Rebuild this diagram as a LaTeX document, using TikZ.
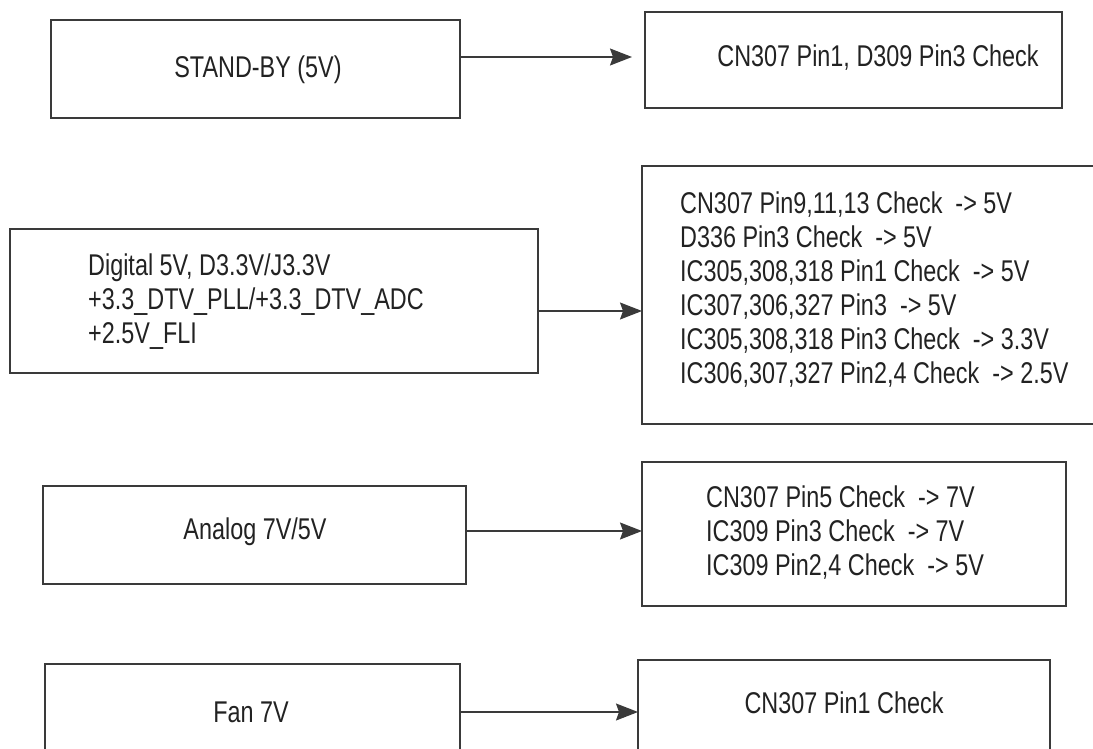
\documentclass[tikz,border=0pt]{standalone}
\usepackage{fontspec}
\setmainfont{Liberation Sans}[FakeStretch=0.78]
\usetikzlibrary{arrows.meta}
\definecolor{linec}{HTML}{3A3A3A}
\definecolor{textc}{HTML}{222222}
\begin{document}
\begin{tikzpicture}[x=1pt,y=-1pt,
  box/.style={draw=linec, line width=1.4pt, rectangle, inner sep=0pt, outer sep=0pt, anchor=north west},
  lbl/.style={font=\fontsize{30}{34}\selectfont, text=textc, inner sep=0pt, align=left},
  conn/.style={draw=linec, line width=1.4pt, -{Stealth[length=22pt,width=17pt,inset=3pt]}}]
\useasboundingbox (0,0) rectangle (1093,749);
\clip (0,0) rectangle (1093,749);
% boxes
\node[box, minimum width=409pt, minimum height=98pt]  (A)  at (51,20)   {};
\node[box, minimum width=417pt, minimum height=96pt]  (Ap) at (645,12)  {};
\node[box, minimum width=528pt, minimum height=144pt] (B)  at (10,229)  {};
\node[box, minimum width=480pt, minimum height=258pt] (Bp) at (642,166) {};
\node[box, minimum width=423pt, minimum height=98pt]  (C)  at (43,486)  {};
\node[box, minimum width=424pt, minimum height=144pt] (Cp) at (642,462) {};
\node[box, minimum width=415pt, minimum height=120pt] (D)  at (45,664)  {};
\node[box, minimum width=412pt, minimum height=120pt] (Dp) at (638,660) {};
% labels
\node[lbl] (tA)  at (258,70)  {STAND-BY (5V)};
\node[lbl] (tAp) at (878,58)  {CN307 Pin1, D309 Pin3 Check};
\node[lbl, anchor=west] (tB) at (88,302) {Digital 5V, D3.3V/J3.3V\\+3.3\_DTV\_PLL/+3.3\_DTV\_ADC\\+2.5V\_FLI};
\node[lbl, anchor=west] (tBp) at (680,290) {CN307 Pin9,11,13 Check~~-> 5V\\D336 Pin3 Check~~-> 5V\\IC305,308,318 Pin1 Check~~-> 5V\\IC307,306,327 Pin3~~-> 5V\\IC305,308,318 Pin3 Check~~-> 3.3V\\IC306,307,327 Pin2,4 Check~~-> 2.5V};
\node[lbl] (tC)  at (255,532) {Analog 7V/5V};
\node[lbl, anchor=west] (tCp) at (706,533) {CN307 Pin5 Check~~-> 7V\\IC309 Pin3 Check~~-> 7V\\IC309 Pin2,4 Check~~-> 5V};
\node[lbl] (tD)  at (251,712) {Fan 7V};
\node[lbl] (tDp) at (844,703) {CN307 Pin1 Check};
% connectors
\draw[conn, shorten >=13pt] ([yshift=12pt]A.east) -- ([yshift=12pt]A.east -| Ap.west);
\draw[conn] ([yshift=-10pt]B.east) -- ([yshift=-10pt]B.east -| Bp.west);
\draw[conn] ([yshift=4pt]C.east) -- ([yshift=4pt]C.east -| Cp.west);
\draw[conn] ([yshift=12pt]D.east) -- ([yshift=12pt]D.east -| Dp.west);
\end{tikzpicture}
\end{document}
